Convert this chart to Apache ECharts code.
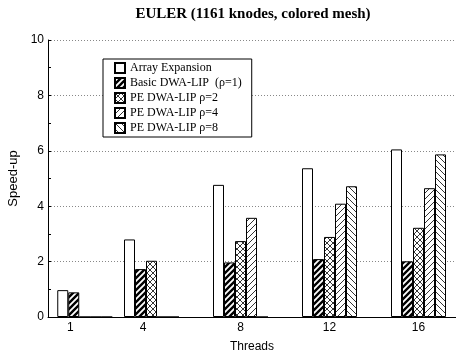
<!DOCTYPE html>
<html>
<head>
<meta charset="utf-8">
<script src="https://cdn.jsdelivr.net/npm/echarts@6/dist/echarts.min.js"></script>
<style>
  html, body { margin: 0; padding: 0; background: #fff; }
  #main { width: 456px; height: 358px; }
</style>
</head>
<body>
<div id="main"></div>
<script>
// threads (x positions of the groups)
var threads = [1, 4, 8, 12, 16];
// x tick labels and where they sit on the value axis
var tickLabels = ['1', '4', '8', '12', '16'];
var tickAt = [0.35, 3.62, 8, 12, 16];

var seriesNames = ['Array Expansion', 'Basic DWA-LIP  (\u03c1=1)', 'PE DWA-LIP \u03c1=2', 'PE DWA-LIP \u03c1=4', 'PE DWA-LIP \u03c1=8'];
var arrayExp = [0.97, 2.80, 4.77, 5.37, 6.05];
var basic = [0.89, 1.73, 1.97, 2.09, 2.01];
var pe2 = [0, 2.03, 2.74, 2.89, 3.22];
var pe4 = [0, 0, 3.58, 4.09, 4.65];
var pe8 = [0, 0, 0, 4.72, 5.87];

// hatch patterns drawn on small canvases
function hatch(kind) {
  var c = document.createElement('canvas');
  var s = 6;
  c.width = s; c.height = s;
  var g = c.getContext('2d');
  g.fillStyle = '#fff';
  g.fillRect(0, 0, s, s);
  g.strokeStyle = '#000';
  function up(w) {
    g.lineWidth = w;
    g.beginPath();
    g.moveTo(-1, s + 1); g.lineTo(s + 1, -1);
    g.moveTo(-1, 1); g.lineTo(1, -1);
    g.moveTo(s - 1, s + 1); g.lineTo(s + 1, s - 1);
    g.stroke();
  }
  function down(w) {
    g.lineWidth = w;
    g.beginPath();
    g.moveTo(-1, -1); g.lineTo(s + 1, s + 1);
    g.moveTo(s - 1, -1); g.lineTo(s + 1, 1);
    g.moveTo(-1, s - 1); g.lineTo(1, s + 1);
    g.stroke();
  }
  if (kind === 'thick') up(2.4);
  if (kind === 'up') up(0.8);
  if (kind === 'down') down(0.8);
  if (kind === 'cross') { up(0.8); down(0.8); }
  return { image: c, repeat: 'repeat' };
}

var fills = ['#fff', hatch('thick'), hatch('cross'), hatch('up'), hatch('down')];
var values = [arrayExp, basic, pe2, pe4, pe8];

var series = values.map(function (vals, i) {
  return {
    name: seriesNames[i],
    type: 'bar',
    barWidth: 11,
    barGap: '0%',
    data: vals.map(function (v, j) { return [threads[j], v]; }),
    itemStyle: { color: fills[i], borderColor: '#000', borderWidth: 1 },
    emphasis: { disabled: true }
  };
});

var chart = echarts.init(document.getElementById('main'), null, { renderer: 'canvas' });
chart.setOption({
  animation: false,
  title: {
    text: 'EULER (1161 knodes, colored mesh)',
    left: 248,
    textAlign: 'center',
    top: 2,
    textStyle: { fontFamily: 'Liberation Serif', fontWeight: 'bold', fontSize: 15, color: '#000' }
  },
  legend: {
    orient: 'vertical',
    left: 103,
    top: 59,
    padding: [3, 10, 3, 11],
    itemWidth: 10,
    itemHeight: 10,
    itemGap: 3,
    icon: 'rect',
    backgroundColor: '#fff',
    borderColor: '#000',
    borderWidth: 1,
    selectedMode: false,
    textStyle: { fontFamily: 'Liberation Serif', fontSize: 12, color: '#000' },
    data: seriesNames
  },
  grid: { left: 48, right: 0, top: 40, bottom: 41, outerBoundsMode: 'none', containLabel: false },
  xAxis: {
    type: 'value',
    min: -0.652,
    max: 17.685,
    name: 'Threads',
    nameLocation: 'middle',
    nameGap: 24,
    nameTextStyle: { fontFamily: 'Liberation Sans', fontSize: 12, color: '#000' },
    axisLine: { show: true, onZero: false, lineStyle: { color: '#000', width: 1 } },
    axisTick: { show: false },
    splitLine: { show: false },
    axisLabel: {
      customValues: tickAt,
      formatter: function (v) {
        var k = tickAt.indexOf(v);
        return k >= 0 ? tickLabels[k] : '';
      },
      fontFamily: 'Liberation Sans',
      fontSize: 12,
      color: '#000',
      margin: 5
    }
  },
  yAxis: {
    type: 'value',
    min: 0,
    max: 10,
    interval: 2,
    name: 'Speed-up',
    nameLocation: 'middle',
    nameGap: 28,
    nameTextStyle: { fontFamily: 'Liberation Sans', fontSize: 13, color: '#000' },
    axisLine: { show: true, onZero: false, lineStyle: { color: '#000', width: 1 } },
    axisTick: { show: true, inside: true, length: 3, lineStyle: { color: '#000' } },
    minorTick: { show: true, splitNumber: 2, length: 3, lineStyle: { color: '#000' } },
    splitLine: { show: true, lineStyle: { color: '#888', type: [1, 2], width: 1 } },
    axisLabel: { fontFamily: 'Liberation Sans', fontSize: 12, color: '#000', margin: 4 }
  },
  series: series
});
</script>
</body>
</html>
